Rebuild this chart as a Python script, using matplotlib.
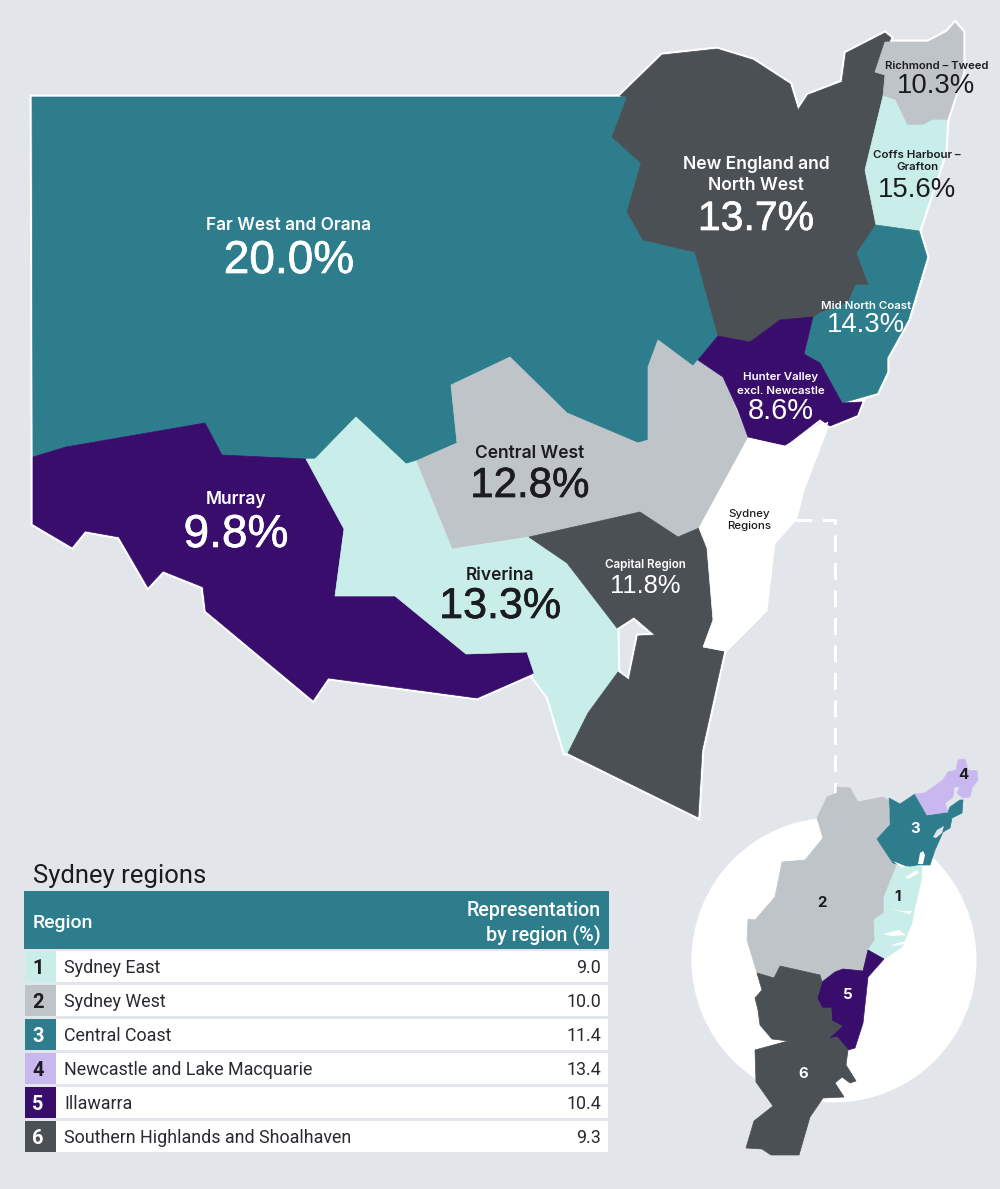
import matplotlib
matplotlib.use("Agg")
import matplotlib.pyplot as plt
import matplotlib.patheffects as pe
from matplotlib.patches import Polygon, Circle, Rectangle

TEAL = "#2e7d8c"
DARK = "#4a5054"
PURPLE = "#390d6b"
MINT = "#c9eee9"
GREY = "#bfc4c8"
LAVENDER = "#c9b8f0"
BG = "#e2e5ea"
INK = "#1c1c20"

# outlines, in picture pixels
far_west = [(32,97),(627,97),(612,137),(641,163),(627,212),(643,240),(695,252),(718,336),(693,366),(658,340),
            (648,367),(648,440),(638,443),(567,413),(510,357),(451,385),(457,443),(416,461),(406,464),(356,417),
            (315,459),(306,459),(222,455),(205,423),(66,447),(33,457)]
new_england = [(620,96),(662,55),(717,49),(753,60),(790,84),(798,110),(808,95),(842,82),(846,53),(885,33),(891,38),
               (875,72),(885,75),(883,97),(865,170),(876,225),(857,253),(869,285),(856,285),(848,303),(820,313),
               (813,318),(780,320),(750,342),(718,336),(695,252),(643,240),(627,212),(641,163),(612,137),(627,97)]
richmond = [(885,42),(928,42),(947,32),(955,23),(963,32),(963,72),(947,120),(933,120),(923,125),(907,125),(895,100),
            (883,96),(885,75),(875,72)]
coffs = [(883,96),(895,100),(907,125),(923,125),(933,120),(947,120),(945,153),(919,231),(876,225),(865,170)]
mid_north = [(876,225),(919,231),(927,257),(908,320),(887,358),(887,372),(877,393),(842,403),(820,363),(804,354),
             (813,318),(820,313),(848,303),(856,285),(869,285),(857,253)]
hunter = [(698,360),(718,336),(750,342),(780,320),(813,317),(804,354),(820,363),(842,403),(862,402),(857,415),
          (830,426),(820,419),(785,446),(748,437),(738,410),(723,377)]
central_west = [(510,357),(451,385),(457,443),(416,461),(452,549),(529,537),(640,512),(678,537),(699,528),(748,438),
                (723,377),(698,360),(693,366),(658,340),(648,367),(648,440),(638,443),(567,413)]
murray = [(33,457),(66,447),(205,423),(222,455),(306,459),(344,529),(335,596),(395,596),(466,654),(527,652),(534,673),
          (477,698),(328,678),(313,700),(206,611),(203,587),(163,571),(148,587),(119,537),(85,531),(72,547),(33,524)]
riverina = [(306,459),(315,459),(356,417),(406,464),(416,461),(452,549),(529,537),(567,563),(617,628),(618,672),
            (588,713),(568,753),(565,753),(548,697),(533,677),(534,673),(527,652),(466,654),(395,596),(335,596),(344,529)]
capital = [(529,537),(640,512),(678,537),(699,528),(707,548),(713,620),(703,647),(724,651),(702,750),(698,817),
           (568,753),(588,713),(618,672),(629,680),(638,636),(655,635),(634,617),(617,628),(567,563)]
sydney_blob = [(748,438),(785,446),(828,422),(802,490),(795,518),(773,543),(765,610),(724,651),(703,647),(713,620),
               (707,548),(699,528)]

state_regions = [(far_west, TEAL), (new_england, DARK), (richmond, GREY), (coffs, MINT), (mid_north, TEAL),
                 (central_west, GREY), (hunter, PURPLE), (murray, PURPLE), (riverina, MINT), (capital, DARK),
                 (sydney_blob, "white")]

syd_west = [(837,787),(850,788),(858,802),(883,797),(893,803),(887,832),(877,839),(897,862),(897,865),(884,897),(884,913),
            (874,920),(875,940),(868,950),(863,971),(843,969),(835,972),(822,982),(820,975),(780,966),(774,978),(757,973),
            (747,940),(748,919),(755,920),(775,897),(782,862),(805,860),(823,838),(817,818),(827,797),(837,793)]
central_coast = [(889,798),(900,804),(915,794),(927,815),(948,812),(950,807),(960,800),(963,800),(962,813),(952,818),
                 (950,828),(943,832),(935,850),(930,865),(923,865),(918,867),(912,868),(902,865),(893,863),(877,839),
                 (890,825),(890,808)]
newcastle = [(915,794),(925,793),(943,780),(948,772),(956,770),(958,760),(965,759),(968,770),(977,771),(978,780),(972,788),
             (970,797),(963,798),(957,793),(960,787),(954,787),(953,797),(945,803),(948,812),(927,815)]
syd_east = [(897,865),(910,867),(922,865),(921,882),(915,907),(912,923),(902,947),(884,959),(868,950),(875,940),(874,920),
            (884,913),(884,897)]
illawarra = [(868,950),(884,959),(868,977),(863,1023),(855,1048),(848,1050),(837,1037),(828,1039),(842,1026),(832,1021),
             (831,1008),(822,1008),(817,998),(822,982),(835,972),(843,969),(863,971)]
highlands = [(757,973),(774,978),(780,966),(820,975),(822,982),(817,998),(822,1008),(831,1008),(832,1021),(842,1026),
             (828,1039),(837,1037),(848,1050),(846,1065),(856,1081),(850,1083),(842,1077),(835,1083),(844,1097),(823,1098),
             (810,1117),(799,1155),(771,1155),(762,1149),(746,1148),(754,1121),(773,1106),(756,1082),(755,1050),(788,1041),
             (772,1039),(760,1025),(758,1010),(755,998),(762,990)]
inset_regions = [(syd_west, GREY), (central_coast, TEAL), (newcastle, LAVENDER), (syd_east, MINT), (illawarra, PURPLE),
                 (highlands, DARK)]

inlets = [[(905,877),(917,870),(919,873),(908,879)], [(891,909),(910,914),(912,911),(903,911)],
          [(883,934),(899,930),(906,935),(892,936)], [(891,945),(905,941),(908,943),(895,946)],
          [(918,864),(920,853),(923,851),(925,855),(923,864)], [(893,861),(905,866),(902,868)]]
bays = [[(933,837),(937,830),(944,826),(942,833),(936,838)]]

map_names = ["Far West and Orana", "New England and\nNorth West", "Richmond – Tweed", "Coffs Harbour –\nGrafton",
             "Mid North Coast", "Hunter Valley\nexcl. Newcastle", "Central West", "Murray", "Riverina", "Capital Region"]
map_shares = ["20.0%", "13.7%", "10.3%", "15.6%", "14.3%", "8.6%", "12.8%", "9.8%", "13.3%", "11.8%"]
name_xy = [(289,226), (756,175), (937,66), (917,161), (866,306), (781,384), (530,453), (236,500), (500,575), (645,565)]
share_xy = [(289,261), (756,219), (936,86), (917,190), (866,325), (781,411), (530,486), (236,535), (500,607), (645,586)]
name_px = [17.3, 17.5, 11.3, 11.5, 11.5, 11.5, 17.4, 17.4, 17.4, 11.6]
share_px = [46, 41, 27.5, 27.5, 27.5, 29, 42, 46, 43, 25.5]
name_spacing = [1.15, 1.27, 1.15, 1.35, 1.15, 1.4, 1.15, 1.15, 1.15, 1.15]
label_colors = ["white", "white", INK, INK, "white", "white", INK, "white", INK, "white"]

inset_nums = ["1", "2", "3", "4", "5", "6"]
inset_xy = [(898,897), (822,903), (915,829), (963,775), (848,995), (803,1074)]
inset_cols = [INK, INK, "white", INK, "white", "white"]

table_regions = ["Sydney East", "Sydney West", "Central Coast", "Newcastle and Lake Macquarie", "Illawarra",
                 "Southern Highlands and Shoalhaven"]
table_values = ["9.0", "10.0", "11.4", "13.4", "10.4", "9.3"]
table_colors = [MINT, GREY, TEAL, LAVENDER, PURPLE, DARK]
table_numcols = [INK, INK, "white", INK, "white", "white"]


def pt(px):
    return px * 0.72


plt.rcParams["font.family"] = ["Inter", "DejaVu Sans"]
fig = plt.figure(figsize=(10, 11.89), dpi=100, facecolor=BG)
ax = fig.add_axes([0, 0, 1, 1])
ax.set_xlim(0, 1000)
ax.set_ylim(1189, 0)
ax.axis("off")

# white halo round the whole state, then the fills on top
for pts, col in state_regions:
    ax.add_patch(Polygon(pts, closed=True, fc="white", ec="white", lw=3.5, joinstyle="miter", zorder=1))
for pts, col in state_regions:
    ax.add_patch(Polygon(pts, closed=True, fc=col, ec=col, lw=0.5, zorder=2))

# dashed link to inset
ax.plot([795, 835, 835], [520, 520, 793], color="white", lw=2.2, dashes=(5.5, 3.5), zorder=3)

ax.add_patch(Circle((834, 960), 142.5, fc="white", ec="none", zorder=3))
for pts, col in inset_regions:
    ax.add_patch(Polygon(pts, closed=True, fc=col, ec=col, lw=0.5, zorder=4))
for pts in inlets:
    ax.add_patch(Polygon(pts, closed=True, fc="white", ec="none", zorder=5))
for pts in bays:
    ax.add_patch(Polygon(pts, closed=True, fc=BG, ec="none", zorder=5))

for i, name in enumerate(map_names):
    ax.text(name_xy[i][0], name_xy[i][1], name, ha="center", va="center", color=label_colors[i],
            fontsize=pt(name_px[i]), fontweight="semibold", linespacing=name_spacing[i], zorder=6)
    t = ax.text(share_xy[i][0], share_xy[i][1], map_shares[i], ha="center", va="center", color=label_colors[i],
                fontsize=pt(share_px[i]), family="Liberation Sans", zorder=6)
    # the original big digits are a touch heavier than Liberation regular
    if share_px[i] >= 40:
        t.set_path_effects([pe.withStroke(linewidth=0.5, foreground=label_colors[i])])
ax.text(749, 520, "Sydney\nRegions", ha="center", va="center", color=INK, fontsize=pt(11.5), fontweight="medium",
        linespacing=1.3, zorder=6)

for i, n in enumerate(inset_nums):
    ax.text(inset_xy[i][0], inset_xy[i][1], n, ha="center", va="center", color=inset_cols[i], fontsize=pt(15),
            fontweight="bold", zorder=6)

# table
ax.text(33, 876, "Sydney regions", ha="left", va="center", color=INK, fontsize=pt(25.6), family="Roboto")
ax.add_patch(Rectangle((24, 891), 585, 58, fc=TEAL, ec="none"))
ax.text(33, 923, "Region", ha="left", va="center", color="white", fontsize=pt(19.5), fontweight="medium", family="Roboto")
ax.text(601, 923, "Representation\nby region (%)", ha="right", va="center", color="white", fontsize=pt(19.8),
        fontweight="medium", family="Roboto", linespacing=1.2)
row_tops = [951, 985, 1019, 1053, 1087, 1121]
for i, top in enumerate(row_tops):
    ax.add_patch(Rectangle((56, top), 552, 31, fc="white", ec="none"))
    ax.add_patch(Rectangle((25, top), 31, 31, fc=table_colors[i], ec="none"))
    ax.text(38, top + 17, str(i + 1), ha="center", va="center", color=table_numcols[i], fontsize=pt(20),
            fontweight="bold", family="Roboto")
    ax.text(64, top + 17, table_regions[i], ha="left", va="center", color="#2a2a30", fontsize=pt(17.9), family="Roboto")
    ax.text(601, top + 17, table_values[i], ha="right", va="center", color="#2a2a30", fontsize=pt(17.9), family="Roboto")

fig.savefig("out.png", dpi=100, facecolor=BG)
